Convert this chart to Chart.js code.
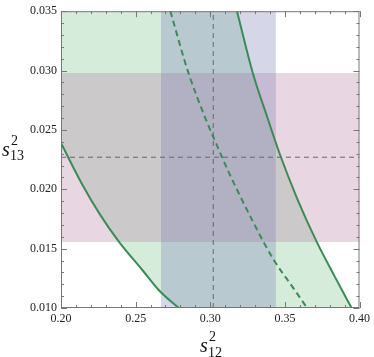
<!DOCTYPE html>
<html>
<head>
<meta charset="utf-8">
<script src="https://cdn.jsdelivr.net/npm/chart.js@4.4.0/dist/chart.umd.min.js"></script>
<style>
  body { margin: 0; background: #fff; }
  canvas { display: block; }
</style>
</head>
<body>
<canvas id="chart" width="374" height="357"></canvas>
<script>
// axis ranges
const xMin = 0.20, xMax = 0.40;
const yMin = 0.010, yMax = 0.035;

// shaded bands
const blueBand = [0.267, 0.344];      // s12^2 range
const pinkBand = [0.01555, 0.0298];   // s13^2 range
const refX = 0.302;
const refY = 0.0227;

// left solid boundary
const leftCurveX = [0.2000, 0.2134, 0.2265, 0.2390, 0.2545, 0.2656, 0.2788];
const leftCurveY = [0.0239, 0.0206, 0.0178, 0.01555, 0.0132, 0.0115, 0.0100];

// right solid boundary
const rightCurveX = [0.3179, 0.3285, 0.3384, 0.3462, 0.3583, 0.3711, 0.3836, 0.3947];
const rightCurveY = [0.0350, 0.0298, 0.0260, 0.0231, 0.0192, 0.01563, 0.0126, 0.0100];

// central dashed curve
const midCurveX = [0.2733, 0.2854, 0.3079, 0.3285, 0.3428, 0.3550, 0.3649];
const midCurveY = [0.0350, 0.0298, 0.0227, 0.0173, 0.0140, 0.0118, 0.0100];

function pts(xs, ys) {
    return xs.map((x, i) => ({x: x, y: ys[i]}));
}

const lineGreen = 'rgb(58, 140, 85)';

// region between the two solid curves
let greenUpper = [{x: xMin, y: yMax}].concat(pts(rightCurveX, rightCurveY));
let greenLower = pts(leftCurveX, leftCurveY).concat([{x: rightCurveX[rightCurveX.length - 1], y: yMin}]);

const frameTicks = {
    id: 'frameTicks',
    afterDatasetsDraw(chart) {
        const ctx = chart.ctx;
        const a = chart.chartArea;
        const xs = chart.scales.x, ys = chart.scales.y;
        ctx.save();
        ctx.strokeStyle = '#777';
        ctx.lineWidth = 1;
        ctx.strokeRect(a.left + 0.5, a.top + 0.5, a.right - a.left - 1, a.bottom - a.top - 1);
        ctx.beginPath();
        for (let i = 0; i <= 20; i++) {
            let v = xMin + i * 0.01;
            let px = Math.round(xs.getPixelForValue(v)) + 0.5;
            let len = (i % 5 === 0) ? 6 : 3;
            ctx.moveTo(px, a.bottom); ctx.lineTo(px, a.bottom - len);
            ctx.moveTo(px, a.top); ctx.lineTo(px, a.top + len);
        }
        for (let i = 0; i <= 25; i++) {
            let v = yMin + i * 0.001;
            let py = Math.round(ys.getPixelForValue(v)) + 0.5;
            let len = (i % 5 === 0) ? 6 : 3;
            ctx.moveTo(a.left, py); ctx.lineTo(a.left + len, py);
            ctx.moveTo(a.right, py); ctx.lineTo(a.right - len, py);
        }
        ctx.stroke();
        ctx.restore();
    },
    afterDraw(chart) {
        const ctx = chart.ctx;
        ctx.save();
        ctx.fillStyle = '#111';
        ctx.textBaseline = 'alphabetic';
        // x label s_12^2
        ctx.font = 'italic 20px "Liberation Serif"';
        ctx.fillText('s', 200, 352);
        ctx.font = '14px "Liberation Serif"';
        ctx.fillText('2', 209, 341);
        ctx.fillText('12', 208, 357);
        // y label s_13^2
        ctx.font = 'italic 20px "Liberation Serif"';
        ctx.fillText('s', 2, 156);
        ctx.font = '14px "Liberation Serif"';
        ctx.fillText('2', 11, 145);
        ctx.fillText('13', 10, 160);
        ctx.restore();
    }
};

const noPoint = {pointRadius: 0, pointHoverRadius: 0};

const data = {
    datasets: [
        Object.assign({data: [{x: refX, y: yMin}, {x: refX, y: yMax}], borderColor: '#666', borderWidth: 1, borderDash: [5, 4], fill: false, order: 0}, noPoint),
        Object.assign({data: [{x: xMin, y: refY}, {x: xMax, y: refY}], borderColor: '#666', borderWidth: 1, borderDash: [5, 4], fill: false, order: 0}, noPoint),
        Object.assign({data: pts(leftCurveX, leftCurveY), borderColor: lineGreen, borderWidth: 2, fill: false, cubicInterpolationMode: 'monotone', order: 1}, noPoint),
        Object.assign({data: pts(rightCurveX, rightCurveY), borderColor: lineGreen, borderWidth: 2, fill: false, cubicInterpolationMode: 'monotone', order: 1}, noPoint),
        Object.assign({data: pts(midCurveX, midCurveY), borderColor: lineGreen, borderWidth: 2, borderDash: [6, 4], fill: false, cubicInterpolationMode: 'monotone', order: 1}, noPoint),
        // bands
        Object.assign({data: [{x: blueBand[0], y: yMax}, {x: blueBand[1], y: yMax}], borderWidth: 0, borderColor: 'transparent', backgroundColor: 'rgba(118, 118, 181, 0.3)', fill: 'start', order: 3}, noPoint),
        Object.assign({data: [{x: xMin, y: pinkBand[1]}, {x: xMax, y: pinkBand[1]}], borderWidth: 0, borderColor: 'transparent', backgroundColor: 'rgba(178, 118, 158, 0.3)', fill: 7, order: 4}, noPoint),
        Object.assign({data: [{x: xMin, y: pinkBand[0]}, {x: xMax, y: pinkBand[0]}], borderWidth: 0, borderColor: 'transparent', fill: false, order: 4}, noPoint),
        Object.assign({data: greenUpper, borderWidth: 0, borderColor: 'transparent', backgroundColor: 'rgba(115, 192, 135, 0.3)', fill: 9, order: 5}, noPoint),
        Object.assign({data: greenLower, borderWidth: 0, borderColor: 'transparent', fill: false, order: 5}, noPoint)
    ]
};

const tickFont = {family: '"Liberation Serif"', size: 12};

const config = {
    type: 'scatter',
    data: data,
    options: {
        responsive: false,
        animation: false,
        showLine: true,
        layout: {padding: {top: 6, right: 11, left: 0, bottom: 0}},
        plugins: {legend: {display: false}, tooltip: {enabled: false}},
        scales: {
            x: {
                type: 'linear', min: xMin, max: xMax,
                grid: {display: false, drawTicks: false},
                border: {display: false},
                ticks: {stepSize: 0.05, padding: 4, color: '#222', font: tickFont, maxRotation: 0,
                        callback: v => v.toFixed(2)},
                afterFit: s => { s.height = 49; }
            },
            y: {
                type: 'linear', min: yMin, max: yMax,
                grid: {display: false, drawTicks: false},
                border: {display: false},
                ticks: {stepSize: 0.005, padding: 4, color: '#222', font: tickFont,
                        callback: v => v.toFixed(3)},
                afterFit: s => { s.width = 61; }
            }
        }
    },
    plugins: [frameTicks]
};

let ctx = document.getElementById('chart').getContext('2d');
new Chart(ctx, config);
</script>
</body>
</html>
